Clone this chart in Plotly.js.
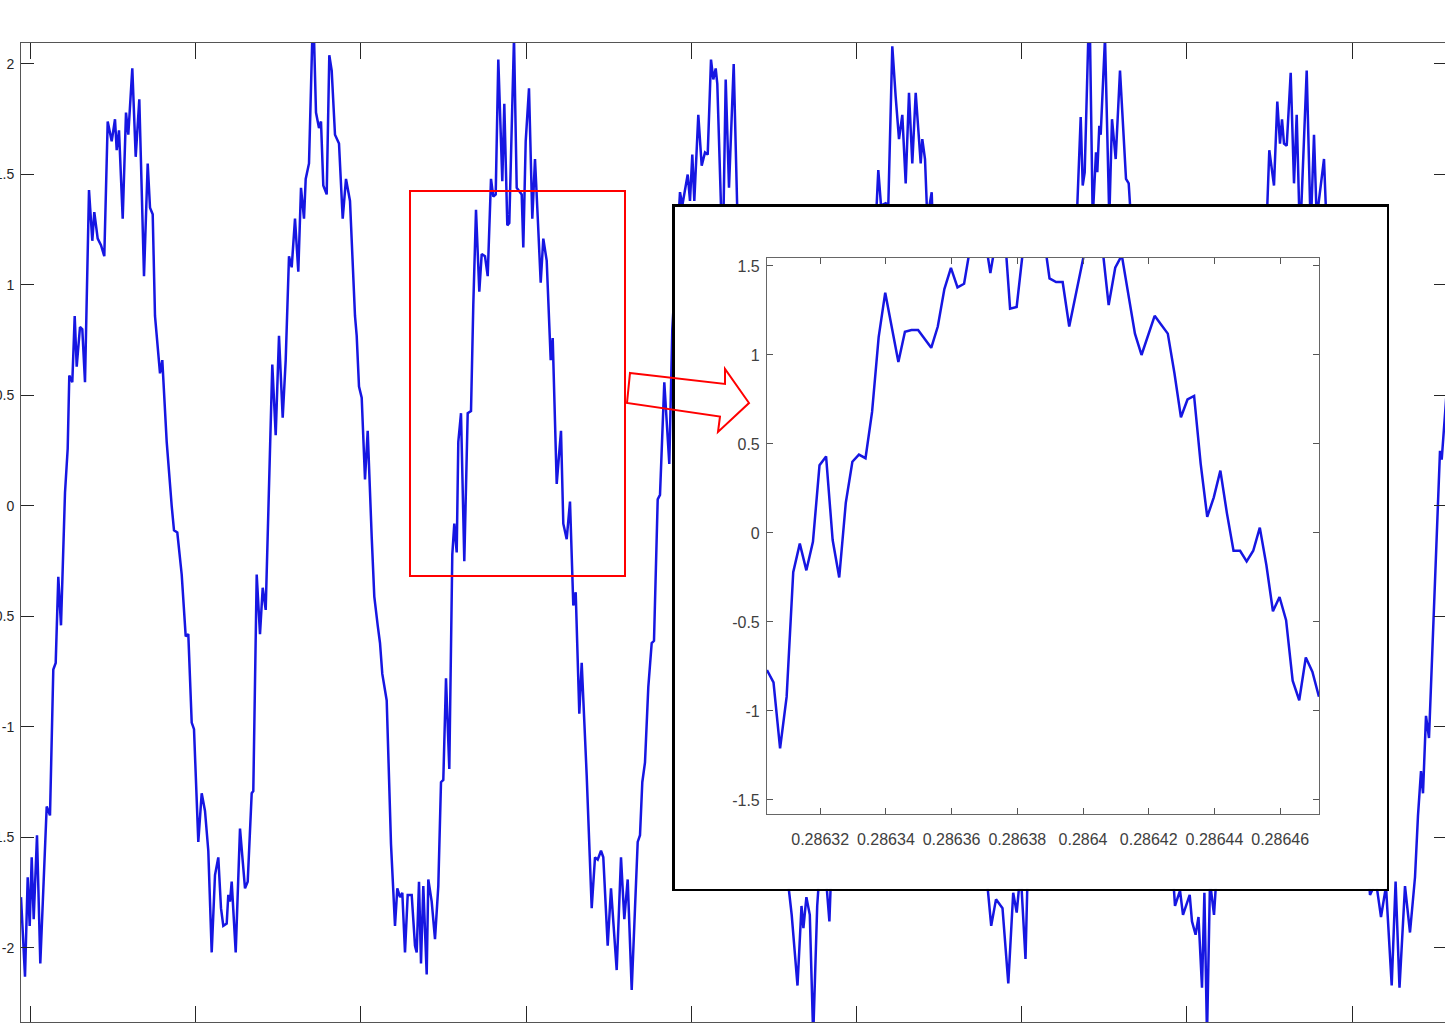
<!DOCTYPE html>
<html>
<head>
<meta charset="utf-8">
<script src="https://cdn.plot.ly/plotly-3.0.1.min.js"></script>
<style>
html,body{margin:0;padding:0;overflow:hidden;background:#ffffff;width:1445px;height:1028px;}
#chart{position:absolute;left:-30px;top:0;width:1480px;height:1060px;}
</style>
</head>
<body>
<div id="chart"></div>
<script>
// ---------- data ----------
// main signal: time (sample-axis units) and amplitude
const mainT = [
21,25,27.7,29.7,31.7,33.7,37,40.3,46.7,50,
53.3,55.7,58.3,61,65,67.7,69.3,72.3,74.7,76.7,
80,82.3,85,89,92.3,94.3,97.7,101,104.3,107.7,
111.7,115,116.7,119,122.7,126,128.3,132.3,135.7,139.3,
144,147.7,150,152.7,155,160,162.3,166.7,171.7,174,
177.3,181.7,185.7,188.3,191.7,194,198.3,201.7,205,208.3,
211.7,215,218.3,221,223.3,226.7,228.3,230,231.7,235.7,
240,245,247.7,251.7,253.3,256.7,260,262.7,265.7,268.3,
272.3,275.7,279,282.7,285.7,289,291.7,295,298.3,301,
304,305.7,309,312.3,314,316,319,321,323.3,326.7,
329.3,331.7,335,339,342.7,346,350,355,356.7,359,
361.7,365,367.7,371.7,374.3,377.7,380,382.3,386.7,391,
395,397.3,400,402.3,405,407.7,411.7,415,416.7,419,
421,423.3,426.7,428.3,431.7,435,438.3,441,443.3,446,
449.3,452.3,454.3,456.7,458.3,461,464.3,467.7,471,473.3,
476,479.3,481.7,485,487.7,491,493.3,495.7,498.3,502.3,
504.3,507.3,509.3,514,516.7,521.7,523.3,525.7,529,532.3,
535,537.7,540.7,543.3,546.7,550.7,552.7,556.7,561,563.3,
566.7,570,573.3,575.7,579.3,581.7,586.7,591.7,595,597.7,
601,603.3,607.7,611,616.7,621,624.3,627.7,631.7,635,
637.7,640,642.3,645,648.3,651.7,654,657.7,660,664.3,
669.3,672.3,676,680,682.3,687.7,690,692.3,694.3,698.3,
701.7,705,707.7,711,713.3,715.7,717.3,722.7,725.7,729,
733.7,738,742,748,753,758,763,768,773,778,
783,788.7,791.7,797.5,801.5,803.4,806.4,809.8,813.2,817.2,
819.6,824.5,829.4,832,837,842,847,852,857,862,
867,872,876,878.3,881,885.7,888.3,892.3,895.7,899,
902.3,905.7,909,912.3,915.7,920.7,922.3,925,927.3,931.7,
933.3,938,943,948,953,958,963,968,974,980,
985,987.7,991.2,996,1002.5,1008.3,1013.2,1016.7,1020.6,1025.5,
1028,1033,1038,1043,1048,1053,1058,1063,1068,1073,
1077.3,1080.7,1082.7,1084.7,1088.3,1090,1092.7,1096,1097.3,1099.3,
1100.7,1105,1109.3,1112,1115.7,1120,1126,1128.7,1130,1135,
1140,1145,1150,1155,1160,1165,1170,1175,1180,1183,
1189.7,1192,1195.6,1198.5,1202,1204.4,1207,1210,1214,1216.7,
1221,1226,1231,1236,1241,1246,1251,1256,1261,1267.3,
1269.3,1274,1277.3,1280,1282,1284,1286.7,1290.7,1294,1296.7,
1300,1306.7,1310.7,1314,1316.7,1324,1326.7,1331,1336,1341,
1346,1351,1356,1361,1366,1370,1376,1381,1386,1391.7,
1395.6,1399.5,1405,1410,1415,1418,1421,1423,1426,1429,
1432,1434,1436.7,1440,1441.7,1445,1448
];
const mainY = [
-1.77,-2.13,-1.68,-1.90,-1.59,-1.87,-1.49,-2.07,-1.36,-1.40,
-0.74,-0.71,-0.32,-0.54,0.06,0.26,0.59,0.56,0.86,0.63,
0.81,0.80,0.56,1.43,1.20,1.33,1.21,1.18,1.13,1.74,
1.65,1.75,1.61,1.70,1.30,1.78,1.68,1.98,1.58,1.84,
1.04,1.55,1.35,1.32,0.86,0.60,0.66,0.29,0.00,-0.11,
-0.12,-0.31,-0.59,-0.58,-0.98,-1.01,-1.52,-1.30,-1.38,-1.56,
-2.02,-1.67,-1.59,-1.82,-1.90,-1.89,-1.76,-1.79,-1.70,-2.02,
-1.46,-1.73,-1.70,-1.30,-1.29,-0.31,-0.58,-0.37,-0.47,0.00,
0.64,0.32,0.77,0.40,0.66,1.13,1.08,1.30,1.06,1.44,
1.30,1.48,1.55,2.12,2.12,1.78,1.71,1.74,1.45,1.41,
2.04,1.97,1.68,1.64,1.30,1.48,1.38,0.86,0.77,0.54,
0.49,0.12,0.34,-0.14,-0.41,-0.54,-0.62,-0.76,-0.88,-1.53,
-1.90,-1.73,-1.77,-1.75,-2.02,-1.76,-1.76,-1.99,-2.02,-1.70,
-2.07,-1.72,-2.12,-1.69,-1.79,-1.96,-1.72,-1.25,-1.24,-0.78,
-1.19,-0.22,-0.08,-0.21,0.29,0.42,-0.25,0.42,0.43,0.91,
1.34,0.97,1.14,1.13,1.04,1.48,1.40,1.41,2.02,1.47,
1.82,1.27,1.28,2.12,1.44,1.41,1.17,1.65,1.89,1.30,
1.57,1.31,1.01,1.21,1.11,0.66,0.76,0.10,0.34,-0.08,
-0.15,0.02,-0.45,-0.39,-0.94,-0.71,-1.22,-1.82,-1.59,-1.60,
-1.56,-1.59,-1.99,-1.73,-2.10,-1.59,-1.87,-1.69,-2.19,-1.82,
-1.52,-1.49,-1.25,-1.16,-0.82,-0.62,-0.61,0.03,0.05,0.56,
0.19,0.80,1.10,1.42,1.36,1.50,1.38,1.59,1.38,1.77,
1.54,1.60,1.59,2.02,1.93,1.98,1.91,1.10,1.93,1.44,
2.00,1.20,1.00,0.55,0.30,-0.10,-0.40,-0.70,-1.00,-1.30,
-1.50,-1.73,-1.85,-2.17,-1.81,-1.91,-1.77,-1.85,-2.40,-1.81,
-1.65,-1.60,-1.88,-1.55,-1.30,-1.00,-0.60,-0.30,0.10,0.40,
0.75,1.05,1.30,1.52,1.36,1.37,1.36,2.08,1.85,1.66,
1.77,1.46,1.87,1.55,1.87,1.55,1.66,1.57,1.30,1.42,
1.20,0.90,0.55,0.20,-0.15,-0.45,-0.75,-1.05,-1.35,-1.55,
-1.65,-1.73,-1.90,-1.78,-1.82,-2.16,-1.75,-1.84,-1.65,-2.05,
-1.60,-1.35,-1.05,-0.70,-0.35,0.00,0.35,0.70,1.00,1.25,
1.36,1.76,1.45,1.51,2.12,2.12,1.30,1.60,1.51,1.72,
1.68,2.12,1.30,1.75,1.57,1.97,1.48,1.46,1.36,1.00,
0.65,0.30,-0.05,-0.40,-0.75,-1.10,-1.45,-1.81,-1.74,-1.85,
-1.76,-1.88,-1.94,-1.86,-2.18,-1.75,-2.40,-1.70,-1.85,-1.65,
-1.35,-1.00,-0.65,-0.30,0.05,0.40,0.75,1.05,1.30,1.36,
1.61,1.45,1.83,1.64,1.75,1.64,1.63,1.96,1.46,1.77,
1.20,1.97,1.25,1.68,1.30,1.57,1.25,0.90,0.55,0.20,
-0.15,-0.50,-0.85,-1.20,-1.50,-1.76,-1.70,-1.86,-1.72,-2.17,
-1.70,-2.18,-1.72,-1.93,-1.68,-1.40,-1.20,-1.30,-0.95,-1.05,
-0.70,-0.40,-0.08,0.25,0.21,0.43,0.60
];
const mainYTickVals = [-2,-1.5,-1,-0.5,0,0.5,1,1.5,2];
const mainYTickText = ["-2","-1.5","-1","-0.5","0","0.5","1","1.5","2"];

// zoomed (inset) signal: first sample time, sample interval (s), amplitudes
const insetT0 = 0.2863038;
const insetDt = 0.000002;
const insetY = [
-0.77,-0.84,-1.21,-0.92,-0.22,-0.06,-0.21,-0.05,0.38,0.43,
-0.04,-0.25,0.17,0.40,0.44,0.42,0.68,1.10,1.35,1.15,
0.96,1.13,1.14,1.14,1.09,1.04,1.16,1.37,1.49,1.38,
1.40,1.62,1.75,1.70,1.46,1.68,1.78,1.26,1.27,1.60,
1.80,1.85,1.70,1.43,1.41,1.41,1.16,1.34,1.52,1.70,
1.80,1.62,1.28,1.49,1.56,1.33,1.12,1.00,1.11,1.22,
1.17,1.12,0.90,0.65,0.75,0.77,0.39,0.09,0.20,0.35,
0.11,-0.10,-0.10,-0.16,-0.10,0.03,-0.18,-0.44,-0.36,-0.49,
-0.83,-0.94,-0.70,-0.78,-0.92
];
const insetXTickVals = [0.28632,0.28634,0.28636,0.28638,0.2864,0.28642,0.28644,0.28646];
const insetXTickText = ["0.28632","0.28634","0.28636","0.28638","0.2864","0.28642","0.28644","0.28646"];
const insetYTickVals = [-1.5,-1,-0.5,0,0.5,1,1.5];
const insetYTickText = ["-1.5","-1","-0.5","0","0.5","1","1.5"];

// ---------- styling ----------
const lineBlue = 'rgb(22,22,226)';
const fontFam = 'Liberation Sans, Arial, Helvetica, sans-serif';

const insetX = insetY.map((_, i) => insetT0 + i * insetDt);

const traces = [
  {x: mainT, y: mainY, type: 'scatter', mode: 'lines',
   line: {color: lineBlue, width: 2.5}, xaxis: 'x', yaxis: 'y', hoverinfo: 'skip'},
  {x: [], y: [], type: 'scatter', mode: 'lines', xaxis: 'x2', yaxis: 'y2', hoverinfo: 'skip'},
  {x: insetX, y: insetY, type: 'scatter', mode: 'lines',
   line: {color: lineBlue, width: 2.5}, xaxis: 'x3', yaxis: 'y3', hoverinfo: 'skip'}
];

const layout = {
  width: 1480, height: 1060,
  margin: {l: 51, r: 3, t: 43, b: 38, pad: 0},
  paper_bgcolor: '#ffffff',
  plot_bgcolor: '#ffffff',
  showlegend: false,
  font: {family: fontFam, color: '#262626'},
  xaxis: {
    domain: [0, 1], range: [21, 1447],
    tick0: 30.5, dtick: 165.2, ticks: 'inside', ticklen: 16, tickwidth: 1, tickcolor: '#262626',
    showline: true, mirror: 'ticks', linecolor: '#555555', linewidth: 1,
    showticklabels: false, showgrid: false, zeroline: false, fixedrange: true
  },
  yaxis: {
    domain: [0, 1], range: [-2.335, 2.095],
    tickmode: 'array', tickvals: mainYTickVals, ticktext: mainYTickText,
    ticks: 'inside', ticklen: 13, tickwidth: 1, tickcolor: '#262626',
    showline: true, mirror: 'ticks', linecolor: '#555555', linewidth: 1,
    tickfont: {family: fontFam, size: 14, color: '#262626'}, ticklabelstandoff: 3,
    showgrid: false, zeroline: false, fixedrange: true
  },
  xaxis2: {
    domain: [0.4586, 0.9579], anchor: 'y2', range: [0, 1],
    showline: true, mirror: true, linecolor: '#000000', linewidth: 2.5,
    ticks: '', showticklabels: false, showgrid: false, zeroline: false, fixedrange: true
  },
  yaxis2: {
    domain: [0.1359, 0.8325], anchor: 'x2', range: [0, 1],
    showline: true, mirror: true, linecolor: '#000000', linewidth: 2.5,
    ticks: '', showticklabels: false, showgrid: false, zeroline: false, fixedrange: true
  },
  xaxis3: {
    domain: [0.5231, 0.9102], anchor: 'y3', range: [insetT0, insetT0 + 84 * insetDt],
    tickmode: 'array', tickvals: insetXTickVals, ticktext: insetXTickText,
    ticks: 'inside', ticklen: 6, tickcolor: '#555555',
    showline: true, mirror: 'ticks', linecolor: '#666666', linewidth: 1,
    tickfont: {family: fontFam, size: 16, color: '#404040'}, ticklabelstandoff: 11,
    showgrid: false, zeroline: false, fixedrange: true
  },
  yaxis3: {
    domain: [0.2125, 0.7804], anchor: 'x3', range: [-1.579, 1.545],
    tickmode: 'array', tickvals: insetYTickVals, ticktext: insetYTickText,
    ticks: 'inside', ticklen: 6, tickcolor: '#555555',
    showline: true, mirror: 'ticks', linecolor: '#666666', linewidth: 1,
    tickfont: {family: fontFam, size: 16, color: '#404040'}, ticklabelstandoff: 3,
    showgrid: false, zeroline: false, fixedrange: true
  },
  shapes: [
    {type: 'rect', xref: 'x', yref: 'y', x0: 410, x1: 625, y0: -0.317, y1: 1.425,
     line: {color: '#ff0000', width: 2}, fillcolor: 'rgba(0,0,0,0)', layer: 'above'},
    {type: 'path', xref: 'x', yref: 'y',
     path: 'M 630 0.602 L 725 0.552 L 725 0.620 L 749 0.466 L 718 0.335 L 720 0.405 L 627 0.466 Z',
     line: {color: '#ff0000', width: 2}, fillcolor: 'rgba(0,0,0,0)', layer: 'above'}
  ]
};

Plotly.newPlot('chart', traces, layout, {staticPlot: true, displayModeBar: false});
</script>
</body>
</html>
